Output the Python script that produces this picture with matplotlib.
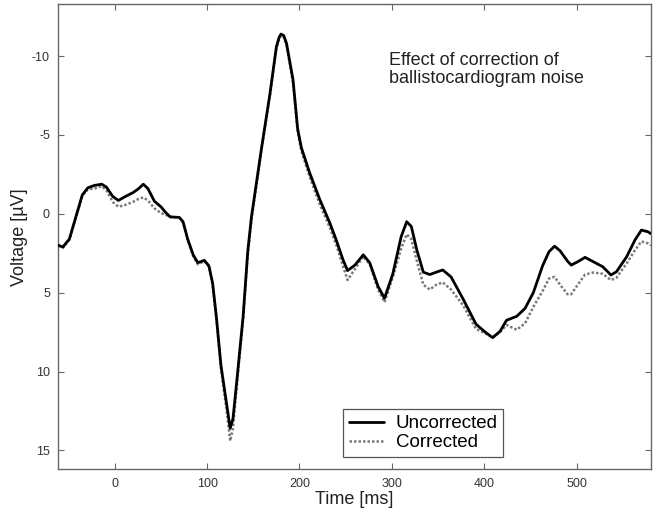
import numpy as np
import matplotlib
matplotlib.use('Agg')
import matplotlib.pyplot as plt

#%% Data (time in ms, voltage in uV)
time_ms = [-61, -56, -49, -42, -35, -29, -22, -14, -9, -2, 4, 11, 20, 26, 31, 36, 43,
           50, 55, 60, 70, 74, 79, 85, 90, 97, 102, 106, 110, 115, 121, 125, 128,
           132, 139, 144, 148, 159, 168, 175, 178, 180, 183, 186, 193, 198, 202, 211, 222,
           233, 240, 247, 252, 260, 269, 276, 285, 292, 301, 310, 316, 321, 327,
           334, 341, 348, 355, 364, 377, 391, 402, 409, 417, 424, 435, 444, 453,
           463, 470, 476, 482, 490, 494, 501, 509, 518, 528, 537, 543, 554, 563,
           570, 577, 580]

uncorrected = [2.0, 2.1, 1.6, 0.2, -1.2, -1.65, -1.8, -1.88, -1.7, -1.1, -0.85, -1.08,
               -1.35, -1.6, -1.88, -1.6, -0.8, -0.45, -0.1, 0.19, 0.23, 0.5, 1.6, 2.6,
               3.1, 2.95, 3.3, 4.4, 6.5, 9.6, 12.0, 13.6, 13.0, 10.7, 6.5, 2.4, 0.2,
               -4.2, -7.6, -10.6, -11.2, -11.4, -11.3, -10.8, -8.5, -5.4, -4.2, -2.6, -0.9,
               0.6, 1.7, 2.9, 3.6, 3.25, 2.6, 3.1, 4.6, 5.35, 3.8, 1.45, 0.5, 0.8, 2.3,
               3.7, 3.85, 3.7, 3.56, 4.0, 5.4, 7.0, 7.55, 7.85, 7.45, 6.75, 6.5, 6.0, 5.0,
               3.3, 2.4, 2.05, 2.35, 3.0, 3.25, 3.04, 2.76, 3.04, 3.35, 3.88, 3.67, 2.72,
               1.66, 1.03, 1.14, 1.25]

corrected = [2.0, 2.15, 1.65, 0.25, -1.15, -1.55, -1.6, -1.75, -1.5, -0.75, -0.45, -0.55,
             -0.76, -0.95, -1.04, -0.85, -0.35, -0.05, 0.05, 0.2, 0.25, 0.55, 1.65, 2.7,
             3.2, 3.0, 3.35, 4.5, 6.6, 9.8, 12.4, 14.4, 13.6, 11.0, 6.7, 2.6, 0.4,
             -4.1, -7.5, -10.5, -11.1, -11.3, -11.2, -10.7, -8.3, -5.2, -4.0, -2.35, -0.6,
             0.9, 2.0, 3.3, 4.2, 3.5, 2.7, 3.2, 4.8, 5.6, 4.0, 2.2, 1.3, 1.6, 3.0,
             4.5, 4.8, 4.5, 4.35, 4.8, 5.8, 7.3, 7.6, 7.85, 7.5, 7.05, 7.35, 6.95, 5.9,
             4.9, 4.1, 4.0, 4.5, 5.1, 5.1, 4.5, 3.85, 3.72, 3.8, 4.2, 4.05, 3.14,
             2.3, 1.75, 1.87, 2.0]

x_ticks = [0, 100, 200, 300, 400, 500]
y_ticks = [-10, -5, 0, 5, 10, 15]
note = 'Effect of correction of\nballistocardiogram noise'

#%% Style
plt.rcParams['font.family'] = ['Liberation Sans', 'DejaVu Sans']
plt.rcParams['axes.unicode_minus'] = False

fig = plt.figure(figsize=(6.57, 5.14), dpi=100)
ax = fig.add_axes([0.0887, 0.087, 0.9017, 0.905])

ax.plot(time_ms, uncorrected, color='black', lw=2.0, label='Uncorrected', zorder=3,
        solid_joinstyle='round', solid_capstyle='round')
ax.plot(time_ms, corrected, color='#7a7a7a', lw=1.8, ls=(0, (1, 0.8)),
        label='Corrected', zorder=2, dash_joinstyle='round')

ax.set_xlim(-61, 580)
ax.set_ylim(16.2, -13.3)
ax.set_xticks(x_ticks)
ax.set_yticks(y_ticks)

for s in ax.spines.values():
    s.set_color('#666666')
    s.set_linewidth(1.0)
ax.tick_params(direction='in', length=4, width=0.8, color='#666666',
               top=True, right=True, labelsize=9, labelcolor='#333333', pad=6)

ax.set_xlabel('Time [ms]', fontsize=13, color='#222222', labelpad=1)
ax.set_ylabel('Voltage [µV]', fontsize=13, color='#222222', labelpad=3)

ax.text(0.558, 0.897, note, transform=ax.transAxes, fontsize=13, color='#222222',
        va='top', ha='left', linespacing=1.05)

leg = ax.legend(loc='lower left', bbox_to_anchor=(0.481, 0.027), borderaxespad=0,
                fancybox=False, framealpha=1, edgecolor='#555555', fontsize=13.5,
                handlelength=1.9, handletextpad=0.6, labelspacing=0.1, borderpad=0.3)
leg.get_frame().set_linewidth(0.9)

fig.savefig('out.png', dpi=100)
